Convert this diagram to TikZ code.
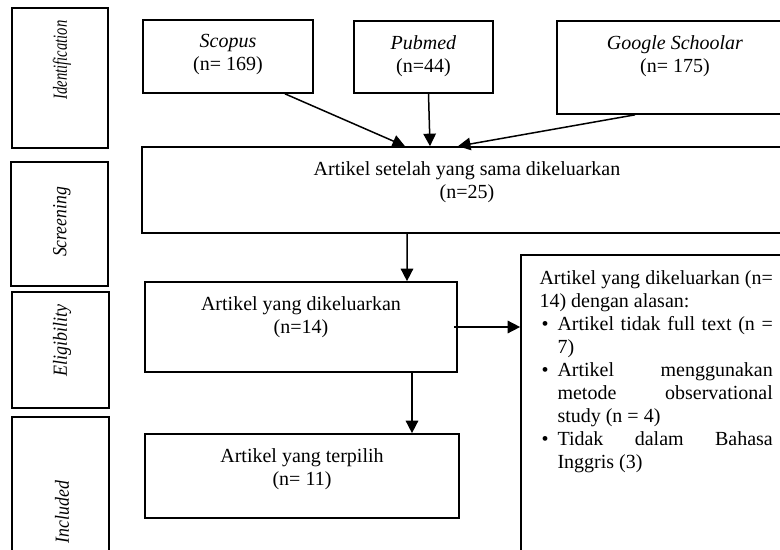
\documentclass[tikz,border=0pt]{standalone}
\usepackage{fontspec}
\setmainfont{Liberation Serif}
\usetikzlibrary{arrows.meta}

\newenvironment{alasanlist}{\begin{list}{\textbullet}{%
  \setlength{\leftmargin}{10.8pt}\setlength{\labelsep}{5.4pt}%
  \setlength{\labelwidth}{5.4pt}\setlength{\topsep}{0pt}%
  \setlength{\partopsep}{0pt}\setlength{\itemsep}{0pt}%
  \setlength{\parsep}{0pt}}}{\end{list}}

\begin{document}
\begin{tikzpicture}[x=0.6pt, y=-0.6pt,
  kotak/.style={draw, line width=1pt, rectangle, inner sep=0pt},
  teks/.style={inner sep=0pt, align=center, font=\fontsize{12}{13.8}\selectfont},
  fase/.style={inner sep=0pt, rotate=90, font=\fontsize{12}{14}\selectfont\itshape},
  panah/.style={line width=0.9pt, -{Triangle[length=7.5pt,width=7.5pt]}}]

\path[use as bounding box, clip] (0,0) rectangle (780,550);

% fase di kiri
\node[kotak, minimum width=57.6pt, minimum height=84pt] (idf) at (60,78) {};
\node[kotak, minimum width=58.2pt, minimum height=74.4pt] (scr) at (59.5,224) {};
\node[kotak, minimum width=58.2pt, minimum height=69.6pt] (elg) at (60.5,350) {};
\node[kotak, minimum width=58.2pt, minimum height=109.8pt] (inc) at (60.5,508.5) {};

\node[fase] (idfT) at (62,60) {\scalebox{0.73}[1]{Identification}};
\node[fase] (scrT) at (62,222) {\scalebox{0.88}[1]{Screening}};
\node[fase] (elgT) at (62,341) {\scalebox{0.9}[1]{Eligibility}};
\node[fase] (incT) at (62,512) {\scalebox{0.89}[1]{Included}};

% sumber data
\node[kotak, minimum width=102pt, minimum height=43.8pt] (scopus) at (228,56.5) {};
\node[kotak, minimum width=83.4pt, minimum height=43.2pt] (pubmed) at (423.5,57) {};
\node[kotak, minimum width=141.6pt, minimum height=55.8pt] (google) at (675,67.5) {};

\node[teks, anchor=north] (scopusT) at ([yshift=-9pt]scopus.north) {\textit{Scopus}\\(n= 169)};
\node[teks, anchor=north] (pubmedT) at ([yshift=-9pt]pubmed.north) {\textit{Pubmed}\\(n=44)};
\node[teks, anchor=north] (googleT) at ([yshift=-9pt]google.north) {\textit{Google Schoolar}\\(n= 175)};

% alur artikel
\node[kotak, minimum width=390pt, minimum height=51.6pt] (setelah) at (467,190) {};
\node[kotak, minimum width=187.2pt, minimum height=54pt] (keluar) at (301,327) {};
\node[kotak, minimum width=188.4pt, minimum height=50.4pt] (pilih) at (302,476) {};
\node[kotak, minimum width=162pt, minimum height=207pt] (alasan) at (656,427.5) {};

\node[teks, anchor=north] (setelahT) at ([yshift=-9pt]setelah.north) {Artikel setelah yang sama dikeluarkan\\(n=25)};
\node[teks, anchor=north] (keluarT) at ([yshift=-9pt]keluar.north) {Artikel yang dikeluarkan\\(n=14)};
\node[teks, anchor=north] (pilihT) at ([yshift=-9pt]pilih.north) {Artikel yang terpilih\\(n= 11)};

\node[teks, anchor=north west, text width=140pt, align=justify] (alasanT) at ([xshift=11.4pt, yshift=-9.6pt]alasan.north west)
{\tolerance=10000 Artikel yang dikeluarkan (n=\linebreak 14) dengan alasan:
\begin{alasanlist}
\item Artikel tidak full text (n =\linebreak 7)
\item Artikel menggunakan\linebreak metode observational\linebreak study (n = 4)
\item Tidak dalam Bahasa\linebreak Inggris (3)
\end{alasanlist}};

% panah
\draw[panah] ([xshift=34.2pt]scopus.south) -- ([xshift=-37.2pt]setelah.north);
\draw[panah] ([xshift=3pt]pubmed.south) -- ([xshift=-22.2pt]setelah.north);
\draw[panah] ([xshift=-24pt]google.south) -- ([xshift=-5.4pt]setelah.north);
\draw[panah] ([xshift=-36pt]setelah.south) -- ([xshift=63.6pt]keluar.north);
\draw[panah] ([xshift=-2.4pt]keluar.east) -- (keluar.east -| alasan.west);
\draw[panah] ([xshift=66.6pt]keluar.south) -- ([xshift=66pt]pilih.north);

\end{tikzpicture}
\end{document}
